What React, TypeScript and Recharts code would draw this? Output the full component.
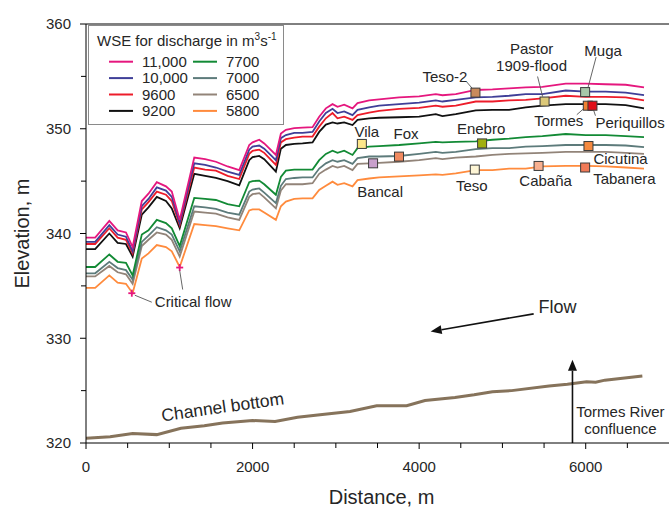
import { LineChart, Line, XAxis, YAxis, ReferenceLine, ReferenceDot, Legend } from 'recharts'

// distance along the reach (m), shared by the eight WSE profiles
const distance = [
  0, 110, 280, 380, 480, 560, 670, 750, 850, 960, 1030, 1125,
  1300, 1430, 1560, 1700, 1840, 1960, 2000, 2080, 2140, 2280, 2340, 2400, 2500, 2600, 2720, 2800, 2880, 2960,
  3020, 3100, 3200, 3260, 3400, 3520, 3760, 4000, 4200, 4280, 4440,
  4680, 4880, 5080, 5280, 5480, 5760, 6000, 6240, 6480, 6700,
]

const wse11000 = [
  339.6, 339.6, 341.2, 340.3, 340.1, 338.7, 343.1, 343.8, 344.9, 344.5, 344.0, 341.3,
  347.25, 347.1, 346.85, 346.4, 346.05, 348.45, 348.7, 348.95, 348.6, 347.5, 349.55, 349.9, 350.05, 350.1, 350.15, 351.15, 351.95, 352.35,
  352.1, 352.3, 351.95, 352.45, 352.7, 352.8, 353.0, 353.1, 353.3, 353.2, 353.3,
  353.7, 353.75, 353.85, 353.95, 354.0, 354.3, 354.3, 354.25, 354.2, 353.95,
]
const wse10000 = [
  339.2, 339.2, 340.8, 339.9, 339.7, 338.3, 342.6, 343.3, 344.4, 344.1, 343.5, 341.0,
  346.7, 346.55, 346.3, 345.9, 345.6, 348.0, 348.3, 348.4, 348.1, 347.0, 349.1, 349.4, 349.6, 349.6, 349.7, 350.7, 351.5, 351.9,
  351.5, 351.65, 351.3, 351.8, 352.05, 352.2, 352.35, 352.5, 352.7, 352.6, 352.75,
  353.0, 353.05, 353.15, 353.3, 353.3, 353.65, 353.55, 353.55, 353.45, 353.2,
]
const wse9600 = [
  339.0, 339.0, 340.5, 339.6, 339.4, 338.1, 342.3, 343.0, 344.0, 343.7, 343.1, 340.8,
  346.3, 346.1, 346.0, 345.5, 345.2, 347.6, 347.9, 348.0, 347.7, 346.55, 348.7, 349.0, 349.15, 349.25, 349.25, 350.2, 351.0, 351.5,
  351.0, 351.15, 350.85, 351.3, 351.55, 351.7, 351.9, 352.0, 352.2, 352.1, 352.2,
  352.6, 352.6, 352.7, 352.75, 352.9, 353.15, 353.05, 353.05, 353.0, 352.7,
]
const wse9200 = [
  338.5, 338.5, 340.0, 339.1, 339.0, 337.8, 341.8, 342.5, 343.5, 343.1, 342.4, 340.5,
  345.7, 345.5, 345.3, 345.0, 344.6, 347.0, 347.3, 347.4, 347.1, 345.9, 348.1, 348.45, 348.55, 348.6, 348.7, 349.7, 350.4, 350.6,
  350.5, 350.6, 350.35, 350.85, 351.0, 351.05, 351.1, 351.15, 351.4, 351.2, 351.4,
  351.75, 351.8, 351.8, 352.05, 352.2, 352.35, 352.35, 352.35, 352.25, 351.95,
]
const wse7700 = [
  336.8, 336.8, 338.0, 337.3, 337.2, 336.0, 339.9, 340.3, 341.3, 341.0, 340.5, 338.8,
  343.4, 343.3, 343.2, 342.8, 342.6, 344.9, 345.0, 345.05, 344.7, 343.7, 345.4, 346.0, 346.1, 346.1, 346.1, 347.0, 347.6, 347.9,
  347.7, 347.9, 347.5, 348.15, 348.3, 348.35, 348.45, 348.6, 348.75, 348.7, 348.75,
  348.8, 348.95, 349.05, 349.2, 349.3, 349.5, 349.4, 349.4, 349.3, 349.2,
]
const wse7000 = [
  336.2, 336.2, 337.3, 336.7, 336.5, 335.6, 339.2, 339.8, 340.6, 340.3, 339.9, 338.3,
  342.6, 342.5, 342.35, 342.0, 341.8, 344.0, 344.2, 344.3, 343.9, 342.9, 344.55, 345.2, 345.3, 345.35, 345.35, 346.2, 346.7, 347.0,
  346.85, 347.0, 346.65, 347.2, 347.35, 347.35, 347.4, 347.6, 347.8, 347.7, 347.8,
  348.05, 348.15, 348.15, 348.3, 348.35, 348.45, 348.45, 348.45, 348.4, 348.25,
]
const wse6500 = [
  335.9, 335.9, 336.9, 336.3, 336.1, 335.2, 338.8, 339.4, 340.1, 339.9, 339.4, 337.8,
  342.1, 342.0, 341.9, 341.55, 341.3, 343.5, 343.75, 343.85, 343.45, 342.4, 344.1, 344.7, 344.7, 344.7, 344.8, 345.7, 346.1, 346.45,
  346.3, 346.45, 346.05, 346.65, 346.7, 346.75, 346.85, 347.0, 347.2, 347.1, 347.25,
  347.35, 347.5, 347.6, 347.65, 347.7, 347.8, 347.8, 347.8, 347.7, 347.6,
]
const wse5800 = [
  334.8, 334.8, 336.0, 335.3, 335.2, 334.3, 337.6, 338.1, 338.9, 338.7, 338.3, 336.8,
  340.9, 340.8, 340.7, 340.5, 340.3, 342.2, 342.3, 342.3, 342.0, 341.3, 342.6, 343.05, 343.3, 343.35, 343.35, 344.15, 344.55, 344.95,
  344.65, 344.8, 344.5, 345.1, 345.25, 345.35, 345.45, 345.55, 345.65, 345.6, 345.75,
  346.05, 346.05, 346.2, 346.2, 346.4, 346.45, 346.45, 346.4, 346.3, 346.2,
]

const seriesKeys = ['q11000', 'q10000', 'q9600', 'q9200', 'q7700', 'q7000', 'q6500', 'q5800']
const seriesNames = ['11,000', '10,000', '9600', '9200', '7700', '7000', '6500', '5800']
const seriesValues = [wse11000, wse10000, wse9600, wse9200, wse7700, wse7000, wse6500, wse5800]
const seriesColors = ['#e5177e', '#3f3f98', '#ed1c2a', '#111111', '#128a35', '#5d7b7b', '#928479', '#ff8b3d']

// channel bottom profile
const bedDistance = [0, 290, 560, 850, 1140, 1420, 1640, 2000, 2270, 2540, 2810, 3170, 3490, 3850, 4070, 4430, 4660, 4880, 5110, 5560, 5780, 6010, 6120, 6230, 6680]
const bedElevation = [320.45, 320.6, 320.9, 320.8, 321.4, 321.65, 321.9, 322.15, 322.05, 322.45, 322.7, 323.0, 323.55, 323.55, 324.05, 324.35, 324.6, 324.9, 325.0, 325.45, 325.6, 325.85, 325.8, 326.0, 326.4]

// paleoflood sites
const stationNames = ['Teso-2', 'Pastor\n1909-flood', 'Muga', 'Tormes', 'Periquillos', 'Vila', 'Fox', 'Bancal', 'Enebro', 'Teso', 'Cabaña', 'Cicutina', 'Tabanera']
const stationDistance = [4676, 5506, 5993, 6025, 6081, 3312, 3758, 3447, 4756, 4668, 5434, 6033, 5993]
const stationElevation = [353.45, 352.6, 353.5, 352.2, 352.2, 348.55, 347.34, 346.7, 348.6, 346.1, 346.45, 348.35, 346.3]
const stationColors = ['#c98a5c', '#dcc878', '#a6c8a8', '#f08030', '#e0101a', '#fde68a', '#f08a60', '#c8a0cc', '#a0b010', '#fdf5d5', '#f8b090', '#f58a40', '#f07a58']

const criticalDistance = [550, 1125]
const criticalElevation = [334.3, 336.75]

const xTicks = [0, 500, 1000, 1500, 2000, 2500, 3000, 3500, 4000, 4500, 5000, 5500, 6000, 6500]
const yTicks = [320, 325, 330, 335, 340, 345, 350, 355, 360]

const table = distance.map((d, i) => {
  const row: Record<string, number> = { d }
  seriesKeys.forEach((k, j) => { row[k] = seriesValues[j][i] })
  return row
})
const bedTable = bedDistance.map((d, i) => ({ d, z: bedElevation[i] }))

const FONT = '"Liberation Sans", Arial, Helvetica, sans-serif'
const TXT = '#262626'
const TS = 6
const TMX = 12
const TMY = 9

// label placement relative to each marker, in px
const labelPos: Record<string, { dx: number; dy: number; anchor: 'start' | 'middle' | 'end'; lead?: number[] }> = {
  'Teso-2': { dx: -8, dy: -16, anchor: 'end', lead: [-9, -11, -3, -4] },
  'Pastor\n1909-flood': { dx: -13, dy: -53, anchor: 'middle', lead: [-7, -25, -2, -5] },
  Muga: { dx: 18, dy: -42, anchor: 'middle', lead: [11, -35, 3, -5] },
  Tormes: { dx: -29, dy: 15, anchor: 'middle', lead: [-11, 9, -3, 2] },
  Periquillos: { dx: 3, dy: 17, anchor: 'start', lead: [1, 4, 3, 10] },
  Vila: { dx: 5, dy: -12, anchor: 'middle' },
  Fox: { dx: 7, dy: -23, anchor: 'middle' },
  Bancal: { dx: 7, dy: 28, anchor: 'middle' },
  Enebro: { dx: -1, dy: -15, anchor: 'middle' },
  Teso: { dx: -3, dy: 16, anchor: 'middle' },
  'Cabaña': { dx: 7, dy: 15, anchor: 'middle' },
  Cicutina: { dx: 5, dy: 12, anchor: 'start' },
  Tabanera: { dx: 8, dy: 11, anchor: 'start' },
}

function XTick({ x, y, payload }: any) {
  const v = payload.value
  const major = v % 2000 === 0
  const ay = y - TS - TMX
  return (
    <g>
      <line x1={x} x2={x} y1={ay} y2={ay + (major ? 6 : 5)} stroke="#000" />
      {major && (
        <text x={x} y={y} dy="0.71em" textAnchor="middle" fontSize={15} fill={TXT} fontFamily={FONT}>{v}</text>
      )}
    </g>
  )
}

function YTick({ x, y, payload }: any) {
  const v = payload.value
  const major = v % 10 === 0
  const ax = x + TS + TMY
  return (
    <g>
      <line x1={ax} x2={ax - (major ? 6 : 5)} y1={y} y2={y} stroke="#000" />
      {major && (
        <text x={x} y={y} dy="0.355em" textAnchor="end" fontSize={15} fill={TXT} fontFamily={FONT}>{v}</text>
      )}
    </g>
  )
}

function arrowShape(props: any) {
  const { x1, y1, x2, y2 } = props
  const a = Math.atan2(y2 - y1, x2 - x1)
  const L = 11
  const W = 4.5
  const bx = x2 - L * Math.cos(a)
  const by = y2 - L * Math.sin(a)
  const px = -Math.sin(a) * W
  const py = Math.cos(a) * W
  return (
    <g>
      <line x1={x1} y1={y1} x2={bx} y2={by} stroke="#111" strokeWidth={1.6} />
      <polygon points={`${x2},${y2} ${bx + px},${by + py} ${bx - px},${by - py}`} fill="#111" />
    </g>
  )
}

function LegendBox() {
  const rows = [0, 1, 2, 3]
  return (
    <svg width={197} height={101} style={{ display: 'block', fontFamily: FONT }}>
      <rect x={0.5} y={0.5} width={195} height={99} fill="#fff" stroke="#8a8a8a" />
      <text x={9} y={21} fontSize={15} fill={TXT}>
        WSE for discharge in m<tspan dy={-6} fontSize={10}>3</tspan><tspan dy={6}>s</tspan><tspan dy={-6} fontSize={10}>-1</tspan>
      </text>
      {rows.map((r) => {
        const cy = 36.7 + r * 16.4
        return [0, 1].map((c) => {
          const i = c * 4 + r
          const lx = c === 0 ? 21 : 105
          return (
            <g key={i}>
              <line x1={lx} x2={lx + 24} y1={cy} y2={cy} stroke={seriesColors[i]} strokeWidth={2} />
              <text x={lx + 33} y={cy + 5.3} fontSize={15} fill={TXT}>{seriesNames[i]}</text>
            </g>
          )
        })
      })}
    </svg>
  )
}

function textDot(lines: string[], opts: { anchor?: string; rotate?: number; size?: number; gap?: number } = {}) {
  return (p: any) => {
    const { cx, cy } = p
    const size = opts.size ?? 15
    const gap = opts.gap ?? 17
    return (
      <g transform={opts.rotate ? `rotate(${opts.rotate} ${cx} ${cy})` : undefined}>
        {lines.map((t, k) => (
          <text key={k} x={cx} y={cy + k * gap} dominantBaseline="central" textAnchor={(opts.anchor ?? 'middle') as any}
            fontSize={size} fill={TXT} fontFamily={FONT}>{t}</text>
        ))}
      </g>
    )
  }
}

export default function App() {
  return (
    <div style={{ position: 'absolute', left: 0, top: 0, width: 669, height: 514, background: '#fff', fontFamily: FONT }}>
      <LineChart width={669} height={514} data={table} margin={{ top: 24, right: 0, bottom: 0, left: 0 }}>
        <XAxis
          type="number"
          dataKey="d"
          domain={[0, 7000]}
          ticks={xTicks}
          height={71}
          tickSize={TS}
          tickMargin={TMX}
          tickLine={false}
          tick={<XTick />}
          axisLine={{ stroke: '#000' }}
          allowDataOverflow
          label={{ value: 'Distance, m', position: 'center', dy: 18, dx: 4, fontSize: 20, fill: TXT }}
        />
        <YAxis
          type="number"
          domain={[320, 360]}
          ticks={yTicks}
          width={86}
          tickSize={TS}
          tickMargin={TMY}
          tickLine={false}
          tick={<YTick />}
          axisLine={{ stroke: '#000' }}
          allowDataOverflow
          label={{ value: 'Elevation, m', angle: -90, position: 'center', dx: -21, fontSize: 20, fill: TXT }}
        />
        <ReferenceLine y={360} stroke="#000" ifOverflow="visible" />
        <Legend
          layout="vertical"
          align="center"
          verticalAlign="middle"
          wrapperStyle={{ position: 'absolute', left: 88, top: 25, width: 197, height: 101 }}
          content={() => <LegendBox />}
        />
        <Line data={bedTable} dataKey="z" stroke="#86735b" strokeWidth={3} dot={false} isAnimationActive={false} legendType="none" />
        {seriesKeys.map((k, j) => (
          <Line key={k} dataKey={k} name={seriesNames[j]} stroke={seriesColors[j]} strokeWidth={1.8} dot={false} isAnimationActive={false} />
        )).reverse()}

        {/* flow direction and confluence arrows */}
        <ReferenceLine segment={[{ x: 5375, y: 332.33 }, { x: 4138, y: 330.64 }]} shape={arrowShape} ifOverflow="visible" />
        <ReferenceLine segment={[{ x: 5841, y: 320 }, { x: 5841, y: 327.95 }]} shape={arrowShape} ifOverflow="visible" />
        <ReferenceDot x={5434} y={333.0} r={0} shape={textDot(['Flow'], { anchor: 'start', size: 18 })} />
        <ReferenceDot x={6417} y={323.0} r={0} shape={textDot(['Tormes River', 'confluence'], { size: 15, gap: 16.5 })} />
        <ReferenceDot x={1640} y={323.45} r={0} shape={textDot(['Channel bottom'], { size: 17.5, rotate: -8 })} />

        {/* critical flow points */}
        {criticalDistance.map((d, i) => (
          <ReferenceDot
            key={'c' + i}
            x={d}
            y={criticalElevation[i]}
            r={0}
            shape={(p: any) => (
              <g>
                <line x1={p.cx - 3.5} x2={p.cx + 3.5} y1={p.cy} y2={p.cy} stroke="#e5177e" strokeWidth={1.8} />
                <line x1={p.cx} x2={p.cx} y1={p.cy - 3.5} y2={p.cy + 3.5} stroke="#e5177e" strokeWidth={1.8} />
                {i === 0 ? (
                  <g>
                    <line x1={p.cx + 3} y1={p.cy + 2} x2={p.cx + 20} y2={p.cy + 9} stroke="#555" strokeWidth={0.9} />
                    <text x={p.cx + 23} y={p.cy + 8} dominantBaseline="central" fontSize={15} fill={TXT} fontFamily={FONT}>Critical flow</text>
                  </g>
                ) : (
                  <line x1={p.cx} y1={p.cy + 3} x2={p.cx + 3} y2={p.cy + 22} stroke="#555" strokeWidth={0.9} />
                )}
              </g>
            )}
          />
        ))}

        {/* sites */}
        {stationNames.map((name, i) => {
          const lp = labelPos[name]
          return (
            <ReferenceDot
              key={name}
              x={stationDistance[i]}
              y={stationElevation[i]}
              r={0}
              shape={(p: any) => (
                <g>
                  {lp.lead && (
                    <line x1={p.cx + lp.lead[0]} y1={p.cy + lp.lead[1]} x2={p.cx + lp.lead[2]} y2={p.cy + lp.lead[3]} stroke="#555" strokeWidth={0.9} />
                  )}
                  <rect x={p.cx - 4.5} y={p.cy - 4.5} width={9} height={9} fill={stationColors[i]} stroke="#3a3a3a" strokeWidth={1} />
                  {name.split('\n').map((t, k) => (
                    <text key={k} x={p.cx + lp.dx} y={p.cy + lp.dy + k * 17} dominantBaseline="central" textAnchor={lp.anchor}
                      fontSize={15} fill={TXT} fontFamily={FONT}>{t}</text>
                  ))}
                </g>
              )}
            />
          )
        })}
      </LineChart>
    </div>
  )
}
